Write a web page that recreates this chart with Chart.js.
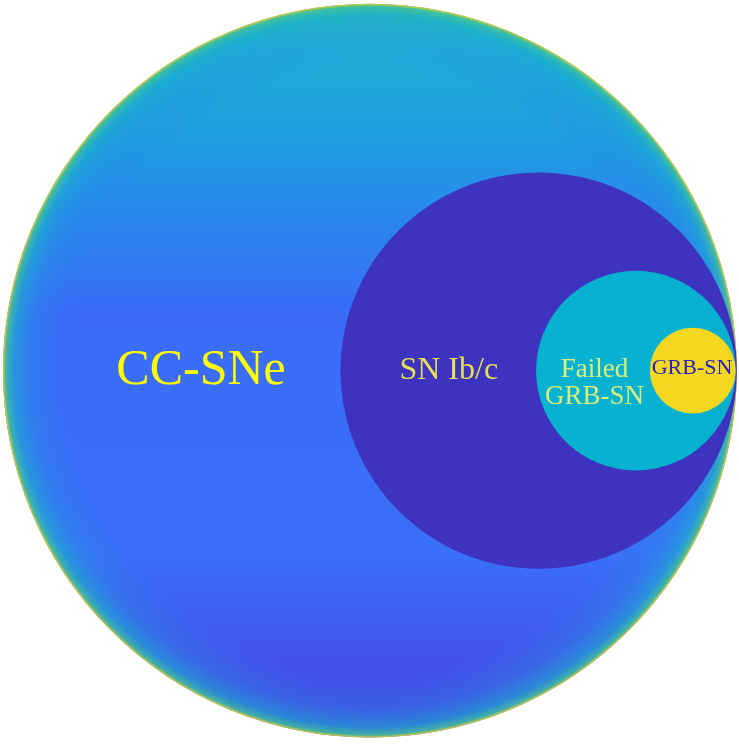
<!DOCTYPE html>
<html>
<head>
<meta charset="utf-8">
<script src="https://cdn.jsdelivr.net/npm/chart.js@4"></script>
<style>
  html, body { margin: 0; padding: 0; background: #ffffff; }
  canvas { display: block; }
</style>
</head>
<body>
<canvas id="myChart" width="739" height="745"></canvas>
<script>
// nested sets, radius and centres in units of the outer circle
const circleNames = ["CC-SNe", "SN Ib/c", "Failed GRB-SN", "GRB-SN"];
const circleX = [0, 0.46, 0.725, 0.88];
const circleY = [0, 0, 0, 0];
const circleR = [1, 0.54, 0.272, 0.117];
const circleColors = ["#3a6cf6", "#3d33bf", "#07b2d0", "#f3d81f"];

// labels (multi line where needed) and where they sit
const labelLines = [["CC-SNe"], ["SN Ib/c"], ["Failed", "GRB-SN"], ["GRB-SN"]];
const labelX = [-0.46, 0.215, 0.612, 0.878];
const labelY = [0.0, 0.0, -0.035, 0.008];
const labelSizes = [50, 32, 27, 22];
const labelColors = ["#ffff00", "#e6df5a", "#d9ee7c", "#2a1fbe"];

function pxRadius(chart, r){ // data radius -> pixels via the x scale
    const s = chart.scales.x;
    return Math.abs(s.getPixelForValue(r) - s.getPixelForValue(0));
}

function outerFill(ctx){ // body of the big circle: cyan top, blue middle, violet bottom
    const chart = ctx.chart;
    const raw = ctx.raw;
    if(!raw || !chart.chartArea) return circleColors[0];
    const cy = chart.scales.y.getPixelForValue(raw.y);
    const r = pxRadius(chart, raw.size);
    const g = chart.ctx.createLinearGradient(0, cy - r, 0, cy + r);
    g.addColorStop(0, "#2bbcb0");
    g.addColorStop(0.06, "#1eaed2");
    g.addColorStop(0.18, "#1f9ee0");
    g.addColorStop(0.3, "#2a86ee");
    g.addColorStop(0.42, "#3a6cf8");
    g.addColorStop(0.75, "#3a70f8");
    g.addColorStop(0.9, "#4452ea");
    g.addColorStop(1, "#4444e2");
    return g;
}

function edgeFill(ctx){ // rim of the big circle going to cyan/yellow
    const chart = ctx.chart;
    const raw = ctx.raw;
    if(!raw || !chart.chartArea) return "rgba(0,0,0,0)";
    const cx = chart.scales.x.getPixelForValue(raw.x);
    const cy = chart.scales.y.getPixelForValue(raw.y);
    const r = pxRadius(chart, raw.size);
    const g = chart.ctx.createRadialGradient(cx, cy, 0, cx, cy, r);
    g.addColorStop(0, "rgba(40,120,240,0)");
    g.addColorStop(0.82, "rgba(40,120,240,0)");
    g.addColorStop(0.92, "rgba(35,150,225,0.3)");
    g.addColorStop(0.97, "rgba(25,175,205,0.6)");
    g.addColorStop(0.993, "rgba(70,195,150,0.85)");
    g.addColorStop(1, "rgba(235,205,45,1)");
    return g;
}

function circleRadius(ctx){
    return ctx.raw ? pxRadius(ctx.chart, ctx.raw.size) : 0;
}

const datasets = [];
datasets.push({
    label: circleNames[0],
    data: [{x: circleX[0], y: circleY[0], size: circleR[0]}],
    pointBackgroundColor: outerFill
});
datasets.push({
    label: circleNames[0] + " rim",
    data: [{x: circleX[0], y: circleY[0], size: circleR[0]}],
    pointBackgroundColor: edgeFill
});
for(let i=1;i<circleNames.length;i++){
    datasets.push({
        label: circleNames[i],
        data: [{x: circleX[i], y: circleY[i], size: circleR[i]}],
        pointBackgroundColor: circleColors[i]
    });
}
datasets.forEach((ds, i) => {
    ds.pointRadius = circleRadius;
    ds.pointHoverRadius = circleRadius;
    ds.pointBorderWidth = 0;
    ds.showLine = false;
    ds.order = datasets.length - i; // chart.js paints the first dataset last, so flip it
});

const labelPlugin = {
    id: "setLabels",
    afterDatasetsDraw(chart){
        const c = chart.ctx;
        c.save();
        c.textAlign = "center";
        c.textBaseline = "middle";
        for(let i=0;i<labelLines.length;i++){
            const px = chart.scales.x.getPixelForValue(labelX[i]);
            const py = chart.scales.y.getPixelForValue(labelY[i]);
            const lines = labelLines[i];
            const lh = labelSizes[i] * 1.0;
            c.font = labelSizes[i] + "px 'Liberation Serif', serif";
            c.fillStyle = labelColors[i];
            for(let j=0;j<lines.length;j++){
                const off = (j - (lines.length - 1) / 2) * lh;
                c.fillText(lines[j], px, py + off);
            }
        }
        c.restore();
    }
};

const CTX = document.getElementById("myChart").getContext("2d");
const myChart = new Chart(CTX, {
    type: "scatter",
    data: { datasets: datasets },
    options: {
        responsive: false,
        animation: false,
        events: [],
        layout: { padding: 0 },
        clip: false,
        scales: {
            x: { type: "linear", min: -1.008, max: 1.006, display: false },
            y: { type: "linear", min: -1.02, max: 1.01, display: false }
        },
        plugins: {
            legend: { display: false },
            tooltip: { enabled: false }
        }
    },
    plugins: [labelPlugin]
});
</script>
</body>
</html>
